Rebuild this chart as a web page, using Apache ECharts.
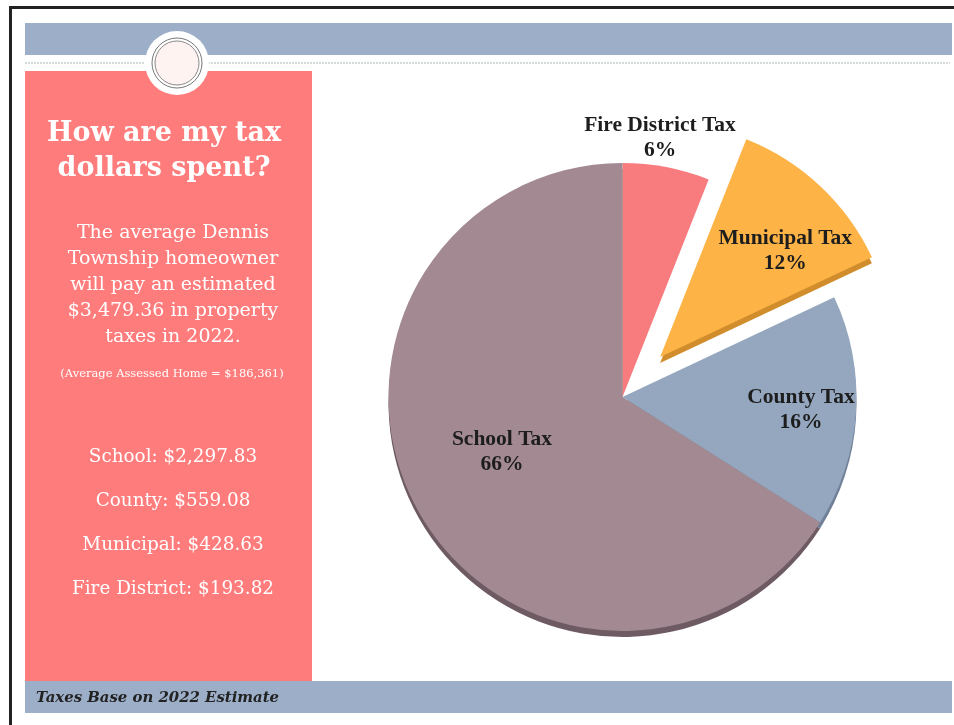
<!DOCTYPE html>
<html><head><meta charset="utf-8">
<style>html,body{margin:0;padding:0;background:#fff}#c{width:954px;height:725px}</style>
<script src="https://cdn.jsdelivr.net/npm/echarts@6/dist/echarts.min.js"></script>
</head><body><div id="c"></div>
<script>
const categories = ['Fire District Tax', 'Municipal Tax', 'County Tax', 'School Tax'];
const shares = [6, 12, 16, 66];
const sliceColors = ['#f87b7e', '#fdb346', '#94a7bf', '#a38a92'];
const sideColors = ['transparent', '#d18d2c', '#6f8098', '#6e5a62'];
const headingLines = ['How are my tax', 'dollars spent?'];
const introLines = ['The average Dennis', 'Township homeowner', 'will pay an estimated', '$3,479.36 in property', 'taxes in 2022.'];
const noteLine = '(Average Assessed Home = $186,361)';
const breakdownLines = ['School: $2,297.83', 'County: $559.08', 'Municipal: $428.63', 'Fire District: $193.82'];
const footerLine = 'Taxes Base on 2022 Estimate';

const serif = '"DejaVu Serif", serif';
const body = '"DejaVu Serif", serif';
const labelFont = '"Liberation Serif", serif';
const labelSpots = [[660, 138], null, [801, 410], [502, 452]];
const explodedLabelShift = [43, -18];

function text(t, x, y, size, font, weight, color, align, style) {
  return { type: 'text', z: 5, style: { text: t, x, y, font: (style||'') + ' ' + (weight||'normal') + ' ' + size + 'px ' + font, fill: color, textAlign: align||'center', textVerticalAlign: 'middle' } };
}
const g = [
  { type: 'rect', z: 1, shape: { x: 9, y: 6, width: 945, height: 3 }, style: { fill: '#222' } },
  { type: 'rect', z: 1, shape: { x: 9, y: 6, width: 3, height: 719 }, style: { fill: '#222' } },
  { type: 'rect', z: 1, shape: { x: 25, y: 23, width: 927, height: 32 }, style: { fill: '#9dafc8' } },
  { type: 'line', z: 1, shape: { x1: 25, y1: 63, x2: 950, y2: 63 }, style: { stroke: '#aab6aa', lineWidth: 1, lineDash: [2, 1] } },
  { type: 'rect', z: 1, shape: { x: 25, y: 71, width: 287, height: 611 }, style: { fill: '#ff7c7c' } },
  { type: 'rect', z: 1, shape: { x: 25, y: 681, width: 927, height: 32 }, style: { fill: '#9dafc8' } },
  { type: 'circle', z: 2, shape: { cx: 177, cy: 63, r: 32 }, style: { fill: '#fff' } },
  { type: 'circle', z: 3, shape: { cx: 177, cy: 63, r: 25 }, style: { fill: '#fff', stroke: '#777', lineWidth: 1 } },
  { type: 'circle', z: 3, shape: { cx: 177, cy: 63, r: 22 }, style: { fill: '#fff3f2', stroke: '#888', lineWidth: 1 } }
];
headingLines.forEach((t, i) => g.push(text(t, 164, 134 + i * 35, 27, serif, 'bold', '#fff')));
introLines.forEach((t, i) => g.push(text(t, 173, 233 + i * 26, 19, body, 'normal', '#fff')));
g.push(text(noteLine, 172, 374, 11.5, body, 'normal', '#fff'));
breakdownLines.forEach((t, i) => g.push(text(t, 173, 457 + i * 44, 18.4, body, 'normal', '#fff')));
g.push(text(footerLine, 36, 698, 14.9, serif, 'bold', '#222', 'left', 'italic'));

function pieData(colors, withShift) {
  return categories.map((name, i) => {
    const item = { name, value: shares[i], selected: name === 'Municipal Tax', itemStyle: { color: colors[i] } };
    if (withShift && item.selected) {
      item.label = { offset: explodedLabelShift };
      item.select = { label: { offset: explodedLabelShift } };
    }
    return item;
  });
}
const pieBase = { type: 'pie', radius: [0, 234], startAngle: 90, clockwise: true, sort: null,
  selectedMode: 'single', selectedOffset: 55, animation: false, silent: true,
  emphasis: { disabled: true }, select: { disabled: false }, labelLine: { show: false } };

const chart = echarts.init(document.getElementById('c'), null, { renderer: 'canvas' });
chart.setOption({
  backgroundColor: '#fff',
  graphic: g,
  series: [
    Object.assign({}, pieBase, { name: 'side', z: 1, center: [622.5, 403], data: pieData(sideColors, false), label: { show: false } }),
    Object.assign({}, pieBase, { name: 'top', z: 2, center: [622.5, 397], data: pieData(sliceColors, true),
      label: { show: true, position: 'inside', formatter: '{b}\n{c}%', color: '#1d1d1d', fontFamily: labelFont, fontWeight: 'bold', fontSize: 21.5, lineHeight: 25, align: 'center' },
      labelLayout: p => labelSpots[p.dataIndex] ? ({ x: labelSpots[p.dataIndex][0], y: labelSpots[p.dataIndex][1], align: 'center', verticalAlign: 'middle' }) : {} })
  ]
});
</script></body></html>
